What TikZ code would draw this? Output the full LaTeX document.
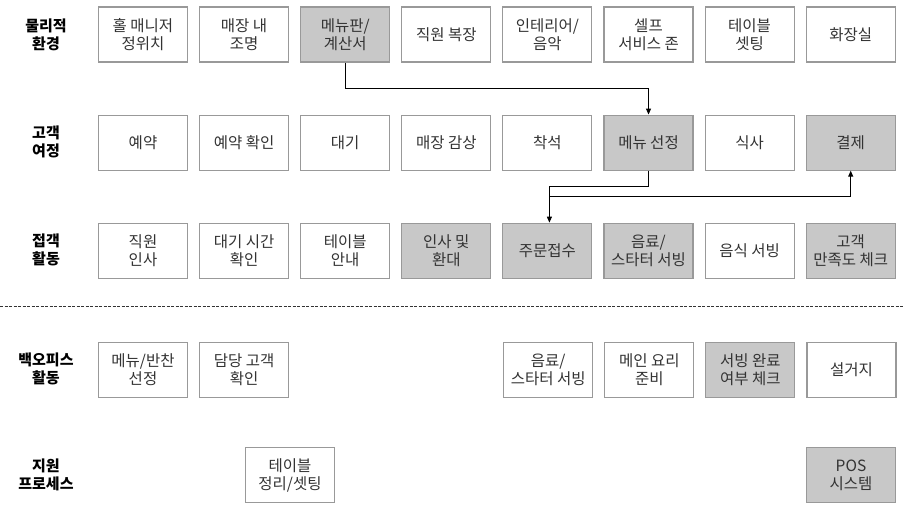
\documentclass[tikz,border=0pt]{standalone}
\usepackage{fontspec}
\setmainfont{Noto Sans CJK KR}
\usetikzlibrary{arrows.meta,positioning}
\definecolor{boxline}{HTML}{999999}
\definecolor{boxfill}{HTML}{C8C8C8}
\definecolor{boxtext}{HTML}{333333}
\tikzset{
	svcbox/.style={rectangle, draw=boxline, line width=1.1pt, fill=white,
		minimum width=89pt, minimum height=55pt, align=center,
		font=\fontsize{15.5}{18}\selectfont, text=boxtext, inner sep=2pt},
	keybox/.style={svcbox, fill=boxfill},
	rowlabel/.style={align=center, font=\fontsize{15}{18}\selectfont\bfseries, inner sep=0pt},
	flowarr/.style={-{Triangle[length=6pt,width=5pt]}, line width=0.9pt}
}
\begin{document}
\begin{tikzpicture}[x=1pt, y=1pt, node distance=52pt and 11pt]
	\useasboundingbox (0,0) rectangle (904,-512);
	% row labels
	\node[rowlabel] (l1) at (46,-34.5) {물리적\\환경};
	\node[rowlabel] (l2) at (46,-142) {고객\\여정};
	\node[rowlabel] (l3) at (46,-250) {접객\\활동};
	\node[rowlabel] (l4) at (46,-368.5) {백오피스\\활동};
	\node[rowlabel] (l5) at (46,-475) {지원\\프로세스};
	% physical evidence
	\node[svcbox] (b11) at (143,-34.5) {홀 매니저\\정위치};
	\node[svcbox, right=of b11] (b12) {매장 내\\조명};
	\node[keybox, right=of b12] (b13) {메뉴판/\\계산서};
	\node[svcbox, right=of b13] (b14) {직원 복장};
	\node[svcbox, right=of b14] (b15) {인테리어/\\음악};
	\node[svcbox, right=of b15] (b16) {셀프\\서비스 존};
	\node[svcbox, right=of b16] (b17) {테이블\\셋팅};
	\node[svcbox, right=of b17] (b18) {화장실};
	% customer journey
	\node[svcbox, below=of b11] (b21) {예약};
	\node[svcbox, right=of b21] (b22) {예약 확인};
	\node[svcbox, right=of b22] (b23) {대기};
	\node[svcbox, right=of b23] (b24) {매장 감상};
	\node[svcbox, right=of b24] (b25) {착석};
	\node[keybox, right=of b25] (b26) {메뉴 선정};
	\node[svcbox, right=of b26] (b27) {식사};
	\node[keybox, right=of b27] (b28) {결제};
	% front stage
	\node[svcbox, below=of b21] (b31) {직원\\인사};
	\node[svcbox, right=of b31] (b32) {대기 시간\\확인};
	\node[svcbox, right=of b32] (b33) {테이블\\안내};
	\node[keybox, right=of b33] (b34) {인사 및\\환대};
	\node[keybox, right=of b34] (b35) {주문접수};
	\node[keybox, right=of b35] (b36) {음료/\\스타터 서빙};
	\node[svcbox, right=of b36] (b37) {음식 서빙};
	\node[keybox, right=of b37] (b38) {고객\\만족도 체크};
	% line of visibility
	\draw[boxtext, line width=0.8pt, dash pattern=on 3pt off 1.5pt] (0,-306) -- (904,-306);
	% back stage
	\node[svcbox, below=63pt of b31] (b41) {메뉴/반찬\\선정};
	\node[svcbox, right=of b41] (b42) {담당 고객\\확인};
	\node[svcbox, right=214pt of b42] (b45) {음료/\\스타터 서빙};
	\node[svcbox, right=of b45] (b46) {메인 요리\\준비};
	\node[keybox, right=of b46] (b47) {서빙 완료\\여부 체크};
	\node[svcbox, right=of b47] (b48) {설거지};
	% support
	\node[svcbox] (b52) at (290,-475) {테이블\\정리/셋팅};
	\node[keybox] (b58) at (851,-475) {POS\\시스템};
	% flows
	\draw[flowarr] (b13.south) -- ++(0,-26) -| (b26.north);
	\draw[flowarr] (b26.south) -- ++(0,-16) -| ([xshift=2pt]b35.north);
	\draw[flowarr] ([xshift=2pt,yshift=26pt]b35.north) -| (b28.south);
\end{tikzpicture}
\end{document}
